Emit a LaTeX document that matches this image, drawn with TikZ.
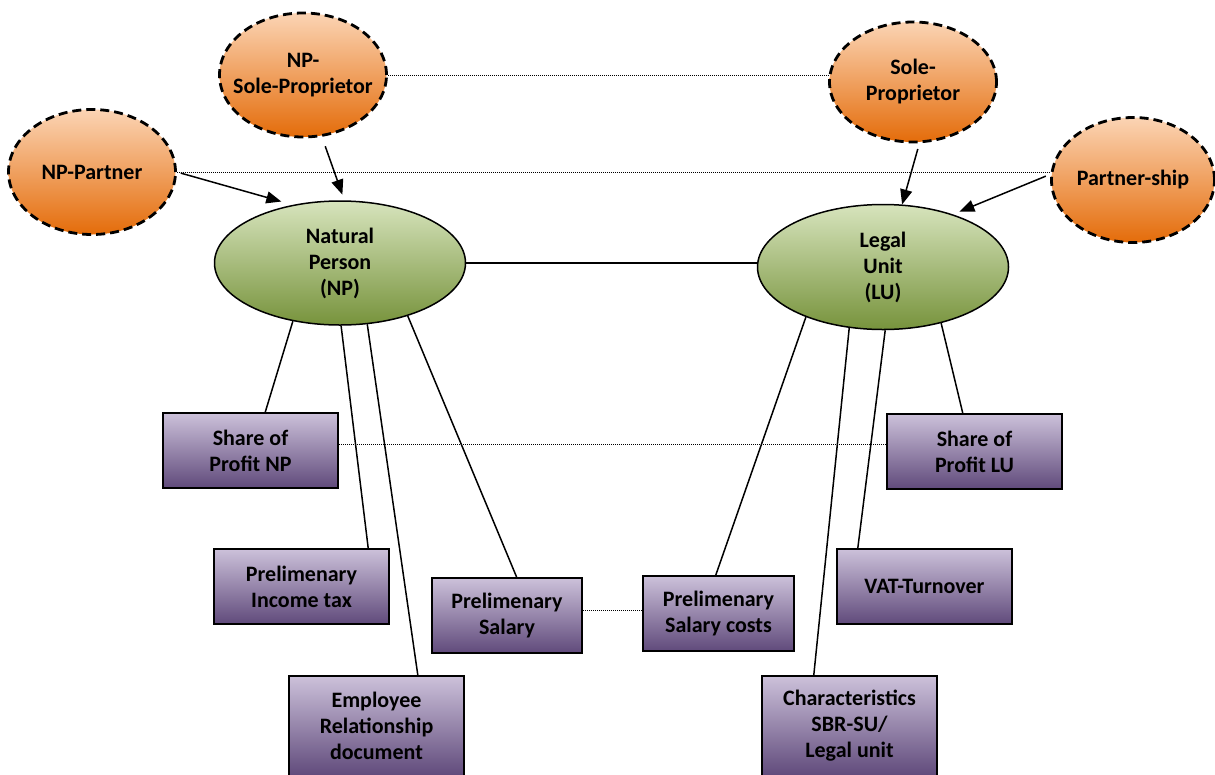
\documentclass[tikz,border=0pt]{standalone}
\usepackage{fontspec}
\setmainfont{Carlito}
\usetikzlibrary{shapes.geometric,arrows.meta}
\definecolor{orangetop}{HTML}{FBD4B4}
\definecolor{orangebot}{HTML}{E46C0A}
\definecolor{greentop}{HTML}{D7E4BD}
\definecolor{greenbot}{HTML}{77933C}
\definecolor{purpletop}{HTML}{CCC1DA}
\definecolor{purplebot}{HTML}{604A7B}
\begin{document}
\begin{tikzpicture}[x=1pt, y=-1pt,
    every node/.style={font=\fontsize{22}{26}\selectfont\bfseries, align=center},
    link/.style={line width=1.5pt},
    hint/.style={line width=0.9pt, dash pattern=on 1pt off 1pt},
    feed/.style={line width=1.5pt, -{Triangle[length=15pt, width=12pt]}}]
    \useasboundingbox (0,0) rectangle (1215,774);
    \clip (0,0) rectangle (1215,774);
    \begin{scope}[every node/.append style={ellipse, draw, line width=2.8pt,
        dash pattern=on 9pt off 5pt, top color=orangetop, bottom color=orangebot,
        inner xsep=-12pt}]
      \node[minimum width=167pt, minimum height=124pt] (NPSP) at (303,75) {NP-\\Sole-Proprietor};
      \node[minimum width=167pt, minimum height=125pt] (NPP) at (92,172) {NP-Partner};
      \node[minimum width=167pt, minimum height=120pt] (SP) at (913,82) {Sole-\\Proprietor};
      \node[minimum width=163pt, minimum height=125pt] (PS) at (1133,180) {Partner-ship};
    \end{scope}
    \begin{scope}[every node/.append style={ellipse, draw, line width=1.5pt,
        top color=greentop, bottom color=greenbot, inner xsep=0pt}]
      \node[minimum width=251pt, minimum height=124pt] (NP) at (340,263) {Natural\\Person\\(NP)};
      \node[minimum width=251pt, minimum height=125pt] (LU) at (883,267) {Legal\\Unit\\(LU)};
    \end{scope}
    \begin{scope}[every node/.append style={rectangle, draw, line width=2pt,
        top color=purpletop, bottom color=purplebot, minimum height=75pt}]
      \node[minimum width=175pt] (SPNP) at (250.5,450.5) {Share of\\Profit NP};
      \node[minimum width=175pt] (PIT) at (301.5,586.5) {Prelimenary\\Income tax};
      \node[minimum width=150pt] (PSAL) at (507,615.5) {Prelimenary\\Salary};
      \node[minimum width=175pt, minimum height=100pt] (ERD) at (376.5,726) {Employee\\Relationship\\document};
      \node[minimum width=175pt] (SPLU) at (974.5,451.5) {Share of\\Profit LU};
      \node[minimum width=175pt] (VAT) at (924.5,586.5) {VAT-Turnover};
      \node[minimum width=151pt] (PSC) at (718.5,613.5) {Prelimenary\\Salary costs};
      \node[minimum width=175pt, minimum height=100pt] (CHAR) at (849.5,726) {Characteristics\\SBR-SU/\\Legal unit};
    \end{scope}

    \draw[hint] (NPSP.east) -- (SP.west |- NPSP.east);
    \draw[hint] (NPP.east) -- (PS.west |- NPP.east);
    \draw[hint] (SPNP.4) -- (SPLU.west |- SPNP.4);
    \draw[hint] (PSAL.4) -- (PSC.west |- PSAL.4);
    \draw[link] (NP.east) -- (LU.west |- NP.east);

    \draw[feed, shorten <=10pt, shorten >=6pt] (NPSP.287) -- (NP.86);
    \draw[feed, shorten <=4pt, shorten >=12pt] (NPP.east) -- (NP.129);
    \draw[feed, shorten <=6pt] (SP.276) -- (LU.73);
    \draw[feed, shorten <=5pt, shorten >=7pt] (PS.176) -- (LU.37);

    \draw[link] (NP.231) -- (SPNP.69);
    \draw[link] (NP.271) -- (PIT.30);
    \draw[link] (NP.294) -- (ERD.51);
    \draw[link] (NP.322) -- (PSAL.76);
    \draw[link] (LU.213.5) -- (PSC.94);
    \draw[link] (LU.241.6) -- (CHAR.125);
    \draw[link] (LU.272) -- (VAT.150);
    \draw[link] (LU.316) -- (SPLU.107);
  \end{tikzpicture}
\end{document}
